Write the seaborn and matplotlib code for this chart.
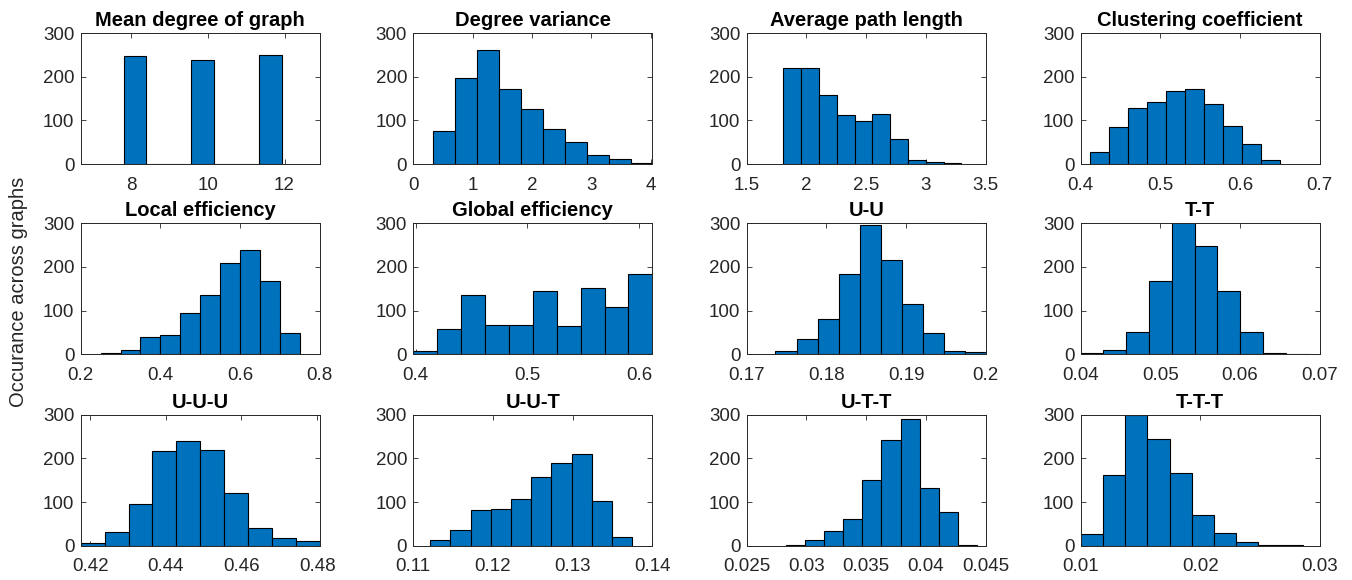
import numpy as np
import pandas as pd
import matplotlib
matplotlib.use("Agg")
import matplotlib.pyplot as plt
import seaborn as sns

# Histogram counts, with the span of the bins (first edge, last edge)
mean_degree_counts = [247, 0, 0, 239, 0, 0, 250]
mean_degree_bins = (7.80, 11.93)
deg_var_counts = [75, 197, 261, 172, 127, 80, 50, 21, 12, 3]
deg_var_bins = (0.33, 4.05)
path_len_counts = [220, 220, 158, 113, 98, 114, 58, 10, 5, 2]
path_len_bins = (1.807, 3.297)
clustering_counts = [27, 84, 128, 142, 168, 172, 137, 86, 46, 10]
clustering_bins = (0.412, 0.650)
local_eff_counts = [2, 11, 40, 45, 95, 135, 210, 239, 168, 49]
local_eff_bins = (0.25, 0.75)
global_eff_counts = [8, 57, 136, 68, 68, 144, 65, 151, 109, 185]
global_eff_bins = (0.398, 0.6116)
uu_counts = [8, 35, 80, 183, 295, 215, 115, 48, 7, 5]
uu_bins = (0.1736, 0.2001)
tt_counts = [3, 11, 52, 169, 312, 248, 145, 50, 3, 1]
tt_bins = (0.0400, 0.0686)
uuu_counts = [6, 31, 95, 218, 239, 220, 121, 40, 18, 10]
uuu_bins = (0.4175, 0.4807)
uut_counts = [12, 35, 82, 85, 106, 158, 189, 211, 102, 21]
uut_bins = (0.1121, 0.1375)
utt_counts = [2, 12, 33, 61, 151, 242, 291, 132, 77, 2]
utt_bins = (0.02825, 0.04428)
ttt_counts = [26, 161, 299, 244, 167, 70, 28, 8, 2, 1]
ttt_bins = (0.0100, 0.0286)

titles = ["Mean degree of graph", "Degree variance", "Average path length",
          "Clustering coefficient", "Local efficiency", "Global efficiency",
          "U-U", "T-T", "U-U-U", "U-U-T", "U-T-T", "T-T-T"]

x_limits = [(6.68, 12.92), (0, 4.03), (1.5, 3.5), (0.4, 0.7),
            (0.2, 0.8), (0.398, 0.6116), (0.17, 0.2), (0.04, 0.07),
            (0.4175, 0.4807), (0.11, 0.14), (0.025, 0.045), (0.01, 0.03)]
x_ticks = [[8, 10, 12], [0, 1, 2, 3, 4], [1.5, 2, 2.5, 3, 3.5], [0.4, 0.5, 0.6, 0.7],
           [0.2, 0.4, 0.6, 0.8], [0.4, 0.5, 0.6], [0.17, 0.18, 0.19, 0.2],
           [0.04, 0.05, 0.06, 0.07], [0.42, 0.44, 0.46, 0.48], [0.11, 0.12, 0.13, 0.14],
           [0.025, 0.03, 0.035, 0.04, 0.045], [0.01, 0.02, 0.03]]
y_ticks = [0, 100, 200, 300]
y_label = "Occurance across graphs"

all_counts = [mean_degree_counts, deg_var_counts, path_len_counts, clustering_counts,
              local_eff_counts, global_eff_counts, uu_counts, tt_counts,
              uuu_counts, uut_counts, utt_counts, ttt_counts]
all_bins = [mean_degree_bins, deg_var_bins, path_len_bins, clustering_bins,
            local_eff_bins, global_eff_bins, uu_bins, tt_bins,
            uuu_bins, uut_bins, utt_bins, ttt_bins]

sns.set_style("ticks")
plt.rcParams['font.family'] = ['Liberation Sans', 'DejaVu Sans']

AX_COLOR = "#262626"
BAR_COLOR = "#0072BD"

fig = plt.figure(figsize=(13.52, 5.8), dpi=100)

col_left = [0.0597, 0.3057, 0.5523, 0.7993]
row_bottom = [0.7172, 0.3891, 0.0591]
ax_w, ax_h = 0.1768, 0.2259

for i, (counts, (lo, hi)) in enumerate(zip(all_counts, all_bins)):
    r, c = divmod(i, 4)
    ax = fig.add_axes([col_left[c], row_bottom[r], ax_w, ax_h])

    n = len(counts)
    width = (hi - lo) / n
    df = pd.DataFrame({"value": [lo + (k + 0.5) * width for k in range(n)],
                       "count": counts})
    sns.histplot(data=df, x="value", weights="count", bins=n, binrange=(lo, hi),
                 color=BAR_COLOR, alpha=1, edgecolor="black", linewidth=0.8, ax=ax)

    ax.set_xlim(*x_limits[i])
    ax.set_ylim(0, 300)
    ax.set_xticks(x_ticks[i])
    ax.set_xticklabels([f"{t:g}" for t in x_ticks[i]])
    ax.set_yticks(y_ticks)
    ax.set_xlabel("")
    ax.set_ylabel("")
    ax.set_title(titles[i], fontsize=14.5, fontweight="bold", color="black", pad=5)

    for side in ["top", "right", "bottom", "left"]:
        ax.spines[side].set_visible(True)
        ax.spines[side].set_color(AX_COLOR)
        ax.spines[side].set_linewidth(0.7)
    ax.tick_params(direction="in", length=3.5, width=0.6, colors=AX_COLOR,
                   labelsize=13.5, top=True, right=True)
    ax.tick_params(axis="x", pad=9)
    ax.tick_params(axis="y", pad=4.5)

fig.text(0.014, 0.497, y_label, rotation=90, ha="center", va="center",
         fontsize=14.5, color=AX_COLOR)

fig.savefig("out.png", dpi=100)
